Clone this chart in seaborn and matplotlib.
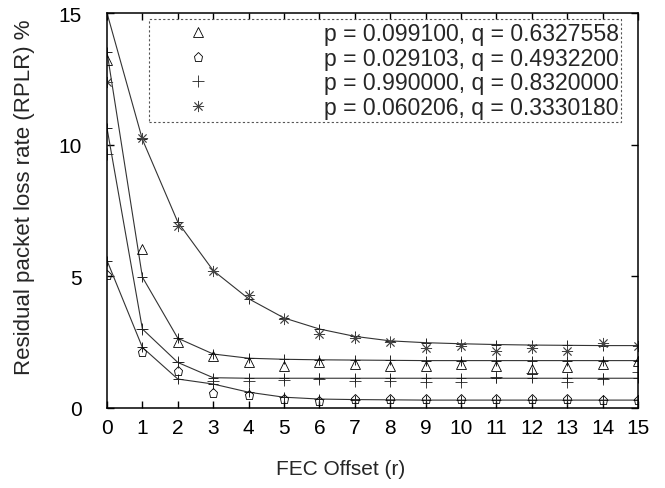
import matplotlib
matplotlib.use("Agg")
import matplotlib.pyplot as plt
import seaborn as sns
import pandas as pd

# ---- data ----
fec_offset = list(range(16))

labels = ["p = 0.099100, q = 0.6327558",
          "p = 0.029103, q = 0.4932200",
          "p = 0.990000, q = 0.8320000",
          "p = 0.060206, q = 0.3330180"]

# analytic curves (lines with + marks)
tri_model = [13.52, 4.97, 2.65, 2.05, 1.89, 1.85, 1.83, 1.82, 1.81, 1.80, 1.80, 1.80, 1.80, 1.80, 1.80, 1.80]
pent_model = [5.60, 2.30, 1.10, 0.91, 0.60, 0.41, 0.34, 0.32, 0.31, 0.30, 0.30, 0.30, 0.30, 0.30, 0.30, 0.30]
plus_model = [10.63, 3.00, 1.73, 1.15, 1.13, 1.13, 1.13, 1.13, 1.13, 1.13, 1.13, 1.13, 1.13, 1.13, 1.13, 1.13]
star_model = [15.0, 10.2, 7.06, 5.22, 4.15, 3.42, 3.00, 2.72, 2.55, 2.48, 2.44, 2.41, 2.39, 2.38, 2.37, 2.37]

# simulated points
tri_sim = [13.2, 6.02, 2.52, 1.99, 1.73, 1.61, 1.76, 1.68, 1.61, 1.61, 1.67, 1.58, 1.50, 1.54, 1.67, 1.77]
pent_sim = [5.05, 2.11, 1.42, 0.57, 0.49, 0.34, 0.28, 0.33, 0.34, 0.34, 0.36, 0.34, 0.33, 0.34, 0.30, 0.32]
plus_sim = [9.65, 3.00, 1.73, 1.02, 1.02, 1.05, 1.10, 1.02, 1.04, 1.00, 1.00, 1.17, 1.32, 1.00, 1.10, 1.36]
star_sim = [12.38, 10.24, 6.93, 5.22, 4.30, 3.38, 2.81, 2.65, 2.50, 2.28, 2.35, 2.17, 2.28, 2.16, 2.47, 2.37]

x_ticks = list(range(16))
y_ticks = [0, 5, 10, 15]

# ---- style ----
sns.set_style("ticks")
plt.rcParams["font.family"] = ["Liberation Sans", "DejaVu Sans"]

fig = plt.figure(figsize=(6.65, 4.89), dpi=100)
ax = fig.add_axes([107 / 665, 1 - 409 / 489, 531 / 665, 395 / 489])

models = [tri_model, pent_model, plus_model, star_model]
sims = [tri_sim, pent_sim, plus_sim, star_sim]
markers = ["^", "p", "+", (8, 2, 0)]
msizes = [6.5, 6.5, 8, 8]
mcolors = ["black", "black", "#222222", "#444444"]

for mod in models:
    df = pd.DataFrame({"r": fec_offset, "v": mod})
    sns.lineplot(data=df, x="r", y="v", ax=ax, color="#333333", linewidth=0.8,
                 marker="+", markersize=7, markeredgewidth=0.7,
                 markeredgecolor="#222222", legend=False)

handles = []
for sim, mk, ms, mc, lab in zip(sims, markers, msizes, mcolors, labels):
    df = pd.DataFrame({"r": fec_offset, "v": sim})
    sns.lineplot(data=df, x="r", y="v", ax=ax, color=mc, linestyle="",
                 marker=mk, markersize=ms, markerfacecolor="none",
                 markeredgecolor=mc, markeredgewidth=0.6, legend=False)
    handles.append(ax.lines[-1])
    ax.lines[-1].set_label(lab)

ax.set_xlim(0, 15)
ax.set_ylim(0, 15)
ax.set_xticks(x_ticks)
ax.set_yticks(y_ticks)
ax.tick_params(direction="in", top=True, right=True, length=5, width=1,
               labelsize=15, colors="black")
ax.tick_params(axis="y", pad=18)
ax.tick_params(axis="x", pad=7)
for s in ax.spines.values():
    s.set_linewidth(1.1)
    s.set_color("black")

ax.set_xlabel("FEC Offset (r)", fontsize=15)
ax.set_ylabel("Residual packet loss rate (RPLR) %", fontsize=16)
ax.xaxis.set_label_coords((341 - 107) / 531, -(460 - 409) / 395)
ax.yaxis.set_label_coords(-(107 - 35) / 531, (409 - 197) / 395)

fs = 16.6
leg = ax.legend(handles=handles, labels=labels, loc="upper left",
                bbox_to_anchor=((149 - 107) / 531, (409 - 20) / 395),
                borderaxespad=0, fontsize=fs, frameon=True, fancybox=False,
                borderpad=0.12, labelspacing=0.08, handlelength=4.0,
                handletextpad=3.45, numpoints=1)
fr = leg.get_frame()
fr.set_edgecolor("#555555")
fr.set_linewidth(0.8)
fr.set_linestyle((0, (2, 2)))
fr.set_facecolor("white")
fr.set_alpha(1)

fig.savefig("out.png", dpi=100)
